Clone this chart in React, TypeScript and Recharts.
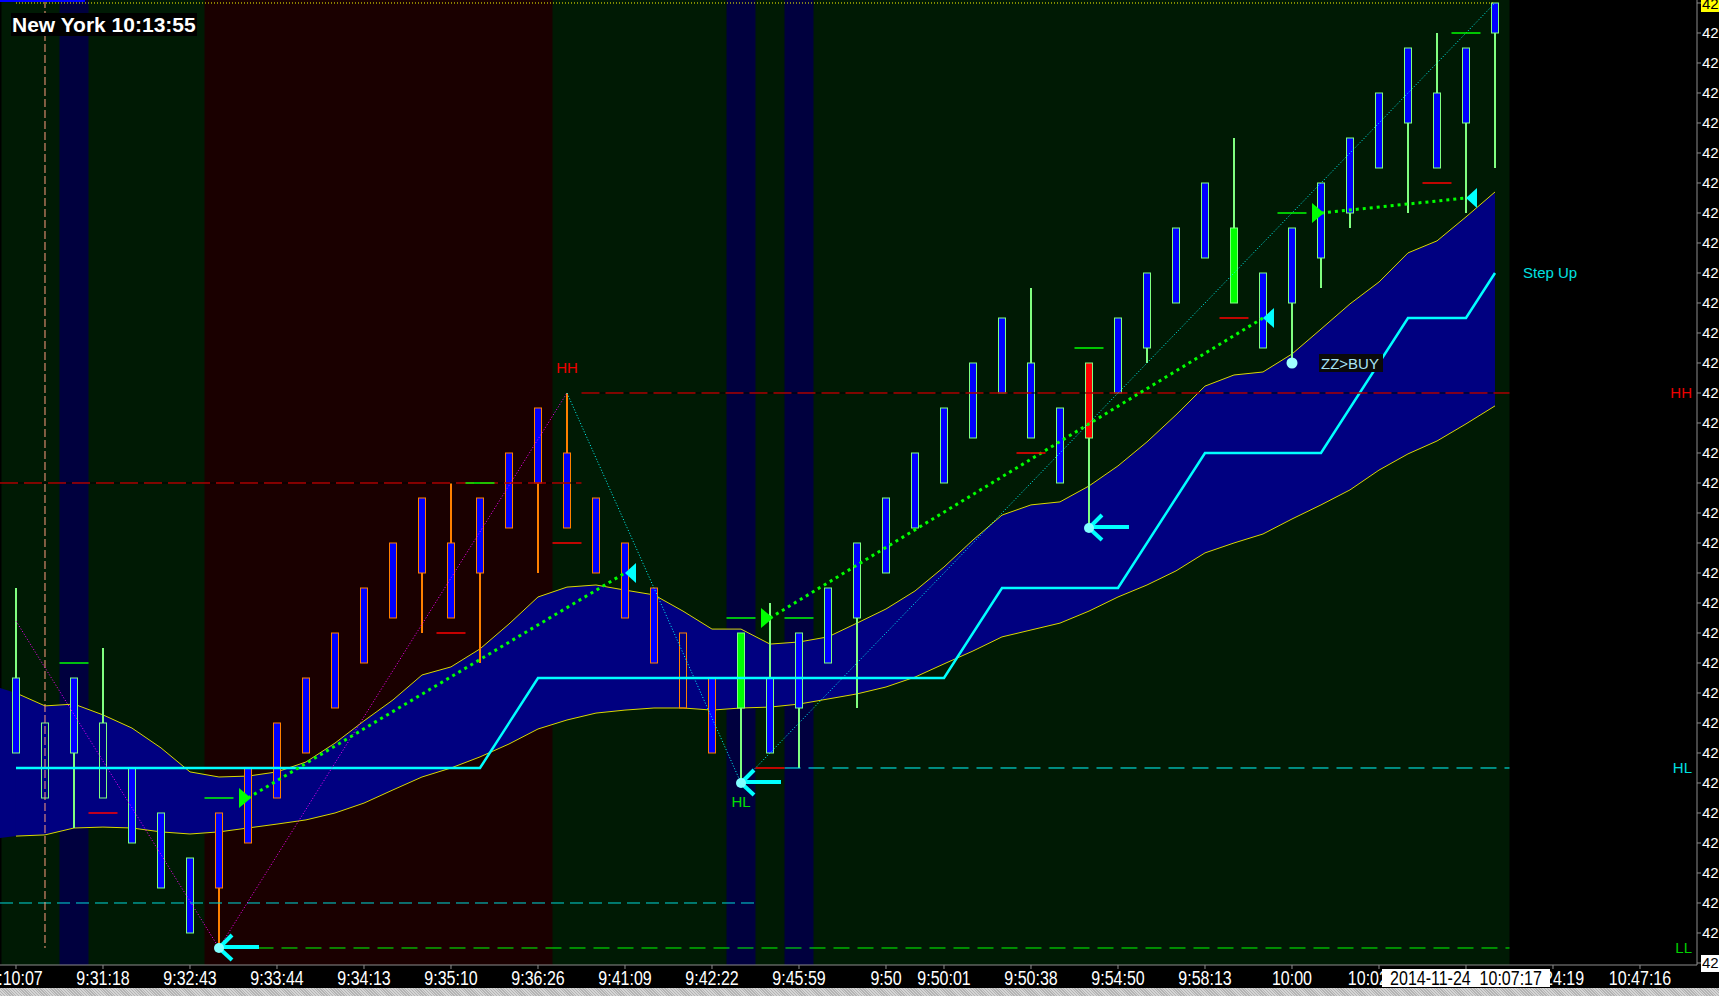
import React from "react";
import {
  ComposedChart,
  Bar,
  Line,
  Area,
  Scatter,
  XAxis,
  YAxis,
  ReferenceArea,
  ReferenceLine,
  ReferenceDot,
} from "recharts";

const font = "Arial, 'Liberation Sans', sans-serif";

// price bars, left to right
const opens = [
  42.16, 42.17, 42.16, 42.17, 42.155, 42.14, 42.125, 42.115, 42.13, 42.145,
  42.16, 42.175, 42.19, 42.205, 42.22, 42.23, 42.22, 42.235, 42.25, 42.26,
  42.245, 42.23, 42.215, 42.2, 42.185, 42.175, 42.185, 42.175, 42.19, 42.205,
  42.22, 42.235, 42.25, 42.265, 42.28, 42.29, 42.275, 42.265, 42.28, 42.295,
  42.31, 42.325, 42.335, 42.32, 42.31, 42.325, 42.34, 42.355, 42.37, 42.38,
  42.37, 42.4,
];
const highs = [
  42.215, 42.17, 42.185, 42.195, 42.155, 42.14, 42.125, 42.14, 42.155, 42.17,
  42.185, 42.2, 42.215, 42.23, 42.245, 42.25, 42.245, 42.26, 42.275, 42.28,
  42.245, 42.23, 42.215, 42.2, 42.185, 42.2, 42.21, 42.2, 42.215, 42.23,
  42.245, 42.26, 42.275, 42.29, 42.305, 42.315, 42.275, 42.29, 42.305, 42.32,
  42.335, 42.35, 42.365, 42.32, 42.335, 42.35, 42.365, 42.38, 42.395, 42.4,
  42.395, 42.41,
];
const lows = [
  42.16, 42.145, 42.135, 42.145, 42.13, 42.115, 42.1, 42.095, 42.13, 42.145,
  42.16, 42.175, 42.19, 42.205, 42.2, 42.205, 42.19, 42.235, 42.22, 42.235,
  42.22, 42.205, 42.19, 42.175, 42.16, 42.15, 42.16, 42.155, 42.19, 42.175,
  42.22, 42.235, 42.25, 42.265, 42.28, 42.265, 42.25, 42.235, 42.28, 42.29,
  42.31, 42.325, 42.31, 42.295, 42.29, 42.315, 42.335, 42.355, 42.34, 42.355,
  42.34, 42.355,
];
const closes = [
  42.185, 42.145, 42.185, 42.145, 42.13, 42.115, 42.1, 42.14, 42.155, 42.17,
  42.185, 42.2, 42.215, 42.23, 42.245, 42.205, 42.245, 42.26, 42.275, 42.235,
  42.22, 42.205, 42.19, 42.175, 42.16, 42.2, 42.16, 42.2, 42.215, 42.23,
  42.245, 42.26, 42.275, 42.29, 42.305, 42.265, 42.25, 42.29, 42.305, 42.32,
  42.335, 42.35, 42.31, 42.295, 42.335, 42.35, 42.365, 42.38, 42.395, 42.355,
  42.395, 42.41,
];

// envelope
const upperBand = [
  42.18, 42.1757, 42.1763, 42.1727, 42.1683, 42.1617, 42.1537, 42.152, 42.1523, 42.1537,
  42.157, 42.1633, 42.1707, 42.1777, 42.186, 42.1887, 42.1947, 42.203, 42.212, 42.2153,
  42.216, 42.2143, 42.2127, 42.2073, 42.2013, 42.2013, 42.1963, 42.197, 42.1987, 42.2033,
  42.208, 42.214, 42.222, 42.231, 42.2393, 42.2427, 42.2437, 42.249, 42.2557, 42.2637,
  42.2727, 42.2823, 42.286, 42.287, 42.293, 42.3013, 42.3097, 42.317, 42.3267, 42.3307,
  42.3387, 42.347,
];
const lowerBand = [
  42.1323, 42.1327, 42.135, 42.1353, 42.135, 42.1337, 42.133, 42.1337, 42.135, 42.1363,
  42.1377, 42.14, 42.1433, 42.1477, 42.152, 42.155, 42.1587, 42.163, 42.168, 42.171,
  42.1733, 42.1743, 42.175, 42.175, 42.1743, 42.175, 42.1753, 42.1763, 42.178, 42.1797,
  42.182, 42.1853, 42.1897, 42.194, 42.1987, 42.201, 42.2033, 42.2073, 42.212, 42.216,
  42.2207, 42.2267, 42.23, 42.233, 42.238, 42.2427, 42.2477, 42.2543, 42.2597, 42.264,
  42.2697, 42.2757,
];
// envelope fill as it enters from the left edge
const bandEdge = [
  { i: -0.5517, band: [42.1317, 42.1817] },
  { i: 0, band: [42.1323, 42.18] },
];

// step line (null while it climbs)
const stepLine = [
  42.155, 42.155, 42.155, 42.155, 42.155, 42.155, 42.155, 42.155, 42.155, 42.155,
  42.155, 42.155, 42.155, 42.155, 42.155, 42.155, 42.155, null, 42.185, 42.185,
  42.185, 42.185, 42.185, 42.185, 42.185, 42.185, 42.185, 42.185, 42.185, 42.185,
  42.185, 42.185, 42.185, null, 42.215, 42.215, 42.215, 42.215, 42.215, null,
  null, 42.26, 42.26, 42.26, 42.26, 42.26, null, null, 42.305, 42.305,
  42.305, 42.32,
];

// bar looks
const hollowBars = [1, 3, 23];
const buyBars = [25, 42];
const sellBars = [37];
const downLeg = [7, 24];

// x axis (the crosshair time goes last so its box sits on top)
const tickIdx = [0, 3, 6, 9, 12, 15, 18, 21, 24, 27, 30, 32, 35, 38, 41, 44, 47, 53, 56, 50];
const tickLabels = [
  "9:10:07", "9:31:18", "9:32:43", "9:33:44", "9:34:13", "9:35:10", "9:36:26",
  "9:41:09", "9:42:22", "9:45:59", "9:50", "9:50:01", "9:50:38", "9:54:50",
  "9:58:13", "10:00", "10:02:33", "10:24:19", "10:47:16", "10:07:17",
];
const crossIdx = 50;
const crossLabel = "2014-11-24  10:07:17";

// short level ticks
const markIdx = [2, 3, 7, 15, 16, 19, 25, 26, 27, 35, 37, 42, 44, 49, 50];
const markVal = [42.19, 42.14, 42.145, 42.2, 42.25, 42.23, 42.205, 42.155, 42.205, 42.26, 42.295, 42.305, 42.34, 42.35, 42.4];
const markUp = [true, false, true, false, true, false, true, false, true, false, true, false, true, false, true];

// zigzag pivots
const zzIdx = [0, 7, 19, 25, 51];
const zzVal = [42.204, 42.095, 42.28, 42.15, 42.41];

// trend trails
const trailFrom = [8, 26, 45];
const trailTo = [21, 43, 50];
const trailFromVal = [42.145, 42.205, 42.34];
const trailToVal = [42.22, 42.305, 42.345];

// swing arrows
const arrowIdx = [7, 25, 37];
const arrowVal = [42.095, 42.15, 42.235];

// levels
const hhOld = 42.25;
const hh = 42.28;
const hl = 42.155;
const ll = 42.095;
const lowLine = 42.11;
const lastPrice = 42.41;
const crossPrice = 42.09;
const buyIdx = 44;
const buyVal = 42.29;

const xDomain = [-0.5517, 57.966];
const yDomain = [42.08933, 42.411];
const yTicks = [crossPrice, ...Array.from({ length: 31 }, (_, k) => +(42.1 + k * 0.01).toFixed(2)), lastPrice];

const data = opens.map((o, i) => {
  const row: any = {
    i,
    o,
    h: highs[i],
    l: lows[i],
    c: closes[i],
    hl: [lows[i], highs[i]],
    band: [lowerBand[i], upperBand[i]],
    up: upperBand[i],
    dn: lowerBand[i],
    step: stepLine[i],
  };
  const z = zzIdx.indexOf(i);
  row.zzA = z >= 0 && z <= 2 ? zzVal[z] : null;
  row.zzB = z >= 2 ? zzVal[z] : null;
  trailFrom.forEach((f, k) => {
    row[`g${k}`] = i === f ? trailFromVal[k] : i === trailTo[k] ? trailToVal[k] : null;
  });
  return row;
});

const marks = markIdx.map((i, k) => ({ i, v: markVal[k], up: markUp[k] }));
const arrows = arrowIdx.map((i, k) => ({ i, v: arrowVal[k] }));
const buys = [{ i: buyIdx, v: buyVal }];

const Candle = (props: any) => {
  const { x, y, width, height, payload } = props;
  if (!payload || height == null) return <g />;
  const { o, h, l, c, i } = payload;
  const top = Math.min(y, y + height);
  const span = Math.abs(height);
  const py = (p: number) => top + ((h - p) / (h - l)) * span;
  const cx = Math.round(x + width / 2);
  const bt = py(Math.max(o, c));
  const bb = py(Math.min(o, c));
  const edge = i >= downLeg[0] && i <= downLeg[1] ? "#ff8000" : "#80ff80";
  let fill = "#0000ff";
  if (hollowBars.includes(i)) fill = "none";
  if (buyBars.includes(i)) fill = "#00ff00";
  if (sellBars.includes(i)) fill = "#ff0000";
  return (
    <g>
      <line x1={cx} x2={cx} y1={top} y2={bt} stroke={edge} strokeWidth={2} />
      <line x1={cx} x2={cx} y1={bb} y2={top + span} stroke={edge} strokeWidth={2} />
      <rect x={cx - 3.5} y={bt} width={7} height={bb - bt} fill={fill} stroke={edge} strokeWidth={1} />
    </g>
  );
};

const MarkTick = (props: any) => {
  const { cx, cy, payload } = props;
  return (
    <line
      x1={cx - 14.5}
      x2={cx + 14.5}
      y1={cy}
      y2={cy}
      stroke={payload.up ? "#00ff00" : "#ff0000"}
      strokeWidth={1.5}
    />
  );
};

const SwingArrow = (props: any) => {
  const { cx, cy } = props;
  return (
    <g>
      <line x1={cx + 4} x2={cx + 40} y1={cy - 1} y2={cy - 1} stroke="#00ffff" strokeWidth={4} />
      <line x1={cx} x2={cx + 13} y1={cy} y2={cy - 13} stroke="#00ffff" strokeWidth={4} />
      <line x1={cx} x2={cx + 13} y1={cy} y2={cy + 12} stroke="#00ffff" strokeWidth={4} />
      <circle cx={cx} cy={cy} r={5} fill="#80ffff" />
    </g>
  );
};

const BuyDot = (props: any) => {
  const { cx, cy } = props;
  return (
    <g>
      <circle cx={cx} cy={cy} r={5.5} fill="#a0ffff" />
      <rect x={cx + 27} y={cy - 9} width={64} height={18} fill="#0a0a0a" />
      <text x={cx + 29} y={cy + 6} fill="#a8e4f4" fontSize={15} fontFamily={font}>
        ZZ&gt;BUY
      </text>
    </g>
  );
};

const trailDot = (k: number) => (p: any) => {
  const { cx, cy, index } = p;
  if (cy == null || isNaN(cy)) return <g key={`t${k}-${index}`} />;
  if (index === trailFrom[k]) {
    return (
      <polygon
        key={`t${k}-${index}`}
        points={`${cx + 3},${cy} ${cx - 9},${cy - 10} ${cx - 9},${cy + 10}`}
        fill="#00ff00"
      />
    );
  }
  if (index === trailTo[k]) {
    return (
      <polygon
        key={`t${k}-${index}`}
        points={`${cx},${cy} ${cx + 11},${cy - 10} ${cx + 11},${cy + 10}`}
        fill="#00ffff"
      />
    );
  }
  return <g key={`t${k}-${index}`} />;
};

const XTick = (props: any) => {
  const { x, y, payload } = props;
  const idx = payload.value;
  const label = tickLabels[tickIdx.indexOf(idx)];
  if (idx === crossIdx) {
    return (
      <g>
        <rect x={x - 84} y={y - 2} width={168} height={18} fill="#ffffff" />
        <text
          transform={`translate(${x},${y + 14}) scale(1,1.25)`}
          textAnchor="middle"
          fill="#000"
          fontSize={16}
          fontFamily={font}
          style={{ whiteSpace: "pre" }}
        >
          {crossLabel}
        </text>
      </g>
    );
  }
  return (
    <text
      transform={`translate(${x},${y + 14}) scale(1,1.25)`}
      textAnchor="middle"
      fill="#ffffff"
      fontSize={16}
      fontFamily={font}
    >
      {label}
    </text>
  );
};

const YTick = (props: any) => {
  const { x, y, payload } = props;
  const v = payload.value;
  const hi = v === lastPrice ? "#ffff00" : v === crossPrice ? "#ffffff" : null;
  return (
    <g>
      {hi && <rect x={x - 1} y={y - 8} width={22} height={17} fill={hi} />}
      <text x={x} y={y + 5.5} fill={hi ? "#000" : "#ffffff"} fontSize={15} fontFamily={font}>
        {v.toFixed(2)}
      </text>
    </g>
  );
};

const level = (x1: number, x2: number, y: number) => [
  { x: x1, y },
  { x: x2, y },
];

export default function App() {
  return (
    <div
      style={{
        position: "absolute",
        left: 0,
        top: 0,
        width: 1719,
        height: 996,
        background: "#000",
        overflow: "hidden",
        fontFamily: font,
      }}
    >
      <ComposedChart width={1719} height={996} data={data} margin={{ top: 0, right: 0, bottom: 0, left: 0 }}>
        <XAxis
          dataKey="i"
          type="number"
          domain={xDomain}
          allowDataOverflow
          ticks={tickIdx}
          interval={0}
          tick={(p: any) => <XTick {...p} />}
          tickSize={4}
          tickMargin={2}
          tickLine={{ stroke: "#8c8c8c" }}
          axisLine={{ stroke: "#8c8c8c" }}
          height={31}
        />
        <YAxis
          orientation="right"
          type="number"
          domain={yDomain}
          allowDataOverflow
          ticks={yTicks}
          interval={0}
          tick={(p: any) => <YTick {...p} />}
          tickSize={4}
          tickMargin={1}
          tickLine={{ stroke: "#8c8c8c" }}
          axisLine={{ stroke: "#8c8c8c" }}
          width={22}
        />

        {/* session shading */}
        <ReferenceArea x1={-0.5} x2={51.5} fill="#001a04" fillOpacity={1} stroke="none" ifOverflow="visible" zIndex={10} />
        <ReferenceArea x1={6.5} x2={18.5} fill="#1a0000" fillOpacity={1} stroke="none" ifOverflow="visible" zIndex={11} />
        <ReferenceArea x1={1.5} x2={2.5} fill="#00003e" fillOpacity={1} stroke="none" ifOverflow="visible" zIndex={11} />
        <ReferenceArea x1={24.5} x2={25.5} fill="#00003e" fillOpacity={1} stroke="none" ifOverflow="visible" zIndex={11} />
        <ReferenceArea x1={26.5} x2={27.5} fill="#00003e" fillOpacity={1} stroke="none" ifOverflow="visible" zIndex={11} />

        <Area data={bandEdge} dataKey="band" type="linear" fill="#000080" fillOpacity={1} stroke="none" isAnimationActive={false} dot={false} activeDot={false} zIndex={20} />
        <Area dataKey="band" type="linear" fill="#000080" fillOpacity={1} stroke="none" isAnimationActive={false} dot={false} activeDot={false} zIndex={20} />
        <Line dataKey="up" type="linear" stroke="#d8d800" strokeWidth={1} dot={false} activeDot={false} isAnimationActive={false} zIndex={30} />
        <Line dataKey="dn" type="linear" stroke="#d8d800" strokeWidth={1} dot={false} activeDot={false} isAnimationActive={false} zIndex={30} />

        <Bar dataKey="hl" barSize={29} shape={(p: any) => <Candle {...p} />} isAnimationActive={false} zIndex={40} />

        <Line dataKey="step" type="linear" stroke="#00ffff" strokeWidth={2.5} connectNulls dot={false} activeDot={false} isAnimationActive={false} zIndex={50} />

        {/* levels */}
        <ReferenceLine segment={level(xDomain[0], 19.5, hhOld)} stroke="#000" ifOverflow="visible" zIndex={60} />
        <ReferenceLine segment={level(xDomain[0], 19.5, hhOld)} stroke="#ff0000" strokeDasharray="18 6" ifOverflow="visible" zIndex={61} />
        <ReferenceLine segment={level(19.5, 51.5, hh)} stroke="#000" ifOverflow="visible" zIndex={60} />
        <ReferenceLine segment={level(19.5, 51.5, hh)} stroke="#ff0000" strokeDasharray="18 6" ifOverflow="visible" zIndex={61} />
        <ReferenceLine segment={level(xDomain[0], 25.5, lowLine)} stroke="#00d8d8" strokeDasharray="13 6" ifOverflow="visible" zIndex={61} />
        <ReferenceLine segment={level(26.5, 51.5, hl)} stroke="#00ffff" strokeDasharray="16 8" ifOverflow="visible" zIndex={61} />
        <ReferenceLine segment={level(7.5, 51.5, ll)} stroke="#00ff00" strokeDasharray="16 8" ifOverflow="visible" zIndex={61} />
        <ReferenceLine segment={level(0, 51, lastPrice)} stroke="#ffff00" strokeDasharray="1 2" ifOverflow="visible" zIndex={61} />
        <ReferenceLine
          segment={[
            { x: 1, y: yDomain[1] },
            { x: 1, y: ll },
          ]}
          stroke="#ff9f80"
          strokeDasharray="8 3"
          ifOverflow="visible"
          zIndex={61}
        />

        {/* zigzag */}
        <Line dataKey="zzA" type="linear" stroke="#ff00ff" strokeWidth={1} strokeDasharray="1 2" connectNulls dot={false} activeDot={false} isAnimationActive={false} zIndex={70} />
        <Line dataKey="zzB" type="linear" stroke="#00ffff" strokeWidth={1} strokeDasharray="1 2" connectNulls dot={false} activeDot={false} isAnimationActive={false} zIndex={70} />

        {/* trails */}
        {trailFrom.map((_, k) => (
          <Line
            key={k}
            dataKey={`g${k}`}
            type="linear"
            stroke="#00ff00"
            strokeWidth={3}
            strokeDasharray="3 4"
            connectNulls
            dot={trailDot(k)}
            activeDot={false}
            isAnimationActive={false}
            zIndex={80}
          />
        ))}

        <Scatter data={marks} dataKey="v" shape={(p: any) => <MarkTick {...p} />} isAnimationActive={false} zIndex={90} />
        <Scatter data={arrows} dataKey="v" shape={(p: any) => <SwingArrow {...p} />} isAnimationActive={false} zIndex={91} />
        <Scatter data={buys} dataKey="v" shape={(p: any) => <BuyDot {...p} />} isAnimationActive={false} zIndex={91} />

        {/* labels */}
        <ReferenceDot x={19} y={hh} r={0} fill="none" stroke="none" ifOverflow="visible" zIndex={95}
          label={{ value: "HH", position: "top", offset: 20, fill: "#ee0000", fontSize: 15, fontFamily: font }} />
        <ReferenceDot x={25} y={arrowVal[1]} r={0} fill="none" stroke="none" ifOverflow="visible" zIndex={95}
          label={{ value: "HL", position: "bottom", offset: 13, fill: "#00e000", fontSize: 15, fontFamily: font }} />
        <ReferenceDot x={51} y={stepLine[51] as number} r={0} fill="none" stroke="none" ifOverflow="visible" zIndex={95}
          label={{ value: "Step Up", position: "right", offset: 28, fill: "#00e0e0", fontSize: 15, fontFamily: font }} />
        <ReferenceDot x={xDomain[1]} y={hh} r={0} fill="none" stroke="none" ifOverflow="visible" zIndex={95}
          label={{ value: "HH", position: "left", offset: 5, fill: "#ee0000", fontSize: 15, fontFamily: font }} />
        <ReferenceDot x={xDomain[1]} y={hl} r={0} fill="none" stroke="none" ifOverflow="visible" zIndex={95}
          label={{ value: "HL", position: "left", offset: 5, fill: "#00e0e0", fontSize: 15, fontFamily: font }} />
        <ReferenceDot x={xDomain[1]} y={ll} r={0} fill="none" stroke="none" ifOverflow="visible" zIndex={95}
          label={{ value: "LL", position: "left", offset: 5, fill: "#00d000", fontSize: 15, fontFamily: font }} />
      </ComposedChart>

      <div style={{ position: "absolute", left: 0, top: 0, width: 85, height: 2, background: "#0000ff" }} />
      <div
        style={{
          position: "absolute",
          left: 11,
          top: 13,
          background: "#000",
          color: "#fff",
          fontWeight: "bold",
          fontSize: 21,
          lineHeight: "23px",
          padding: "0 1px",
          fontFamily: font,
        }}
      >
        New York 10:13:55
      </div>
      <div
        style={{
          position: "absolute",
          left: 0,
          top: 988,
          width: 1719,
          height: 8,
          background: "repeating-linear-gradient(45deg, #d4d4d4 0 1px, #b4b4b4 1px 2px)",
        }}
      />
    </div>
  );
}
